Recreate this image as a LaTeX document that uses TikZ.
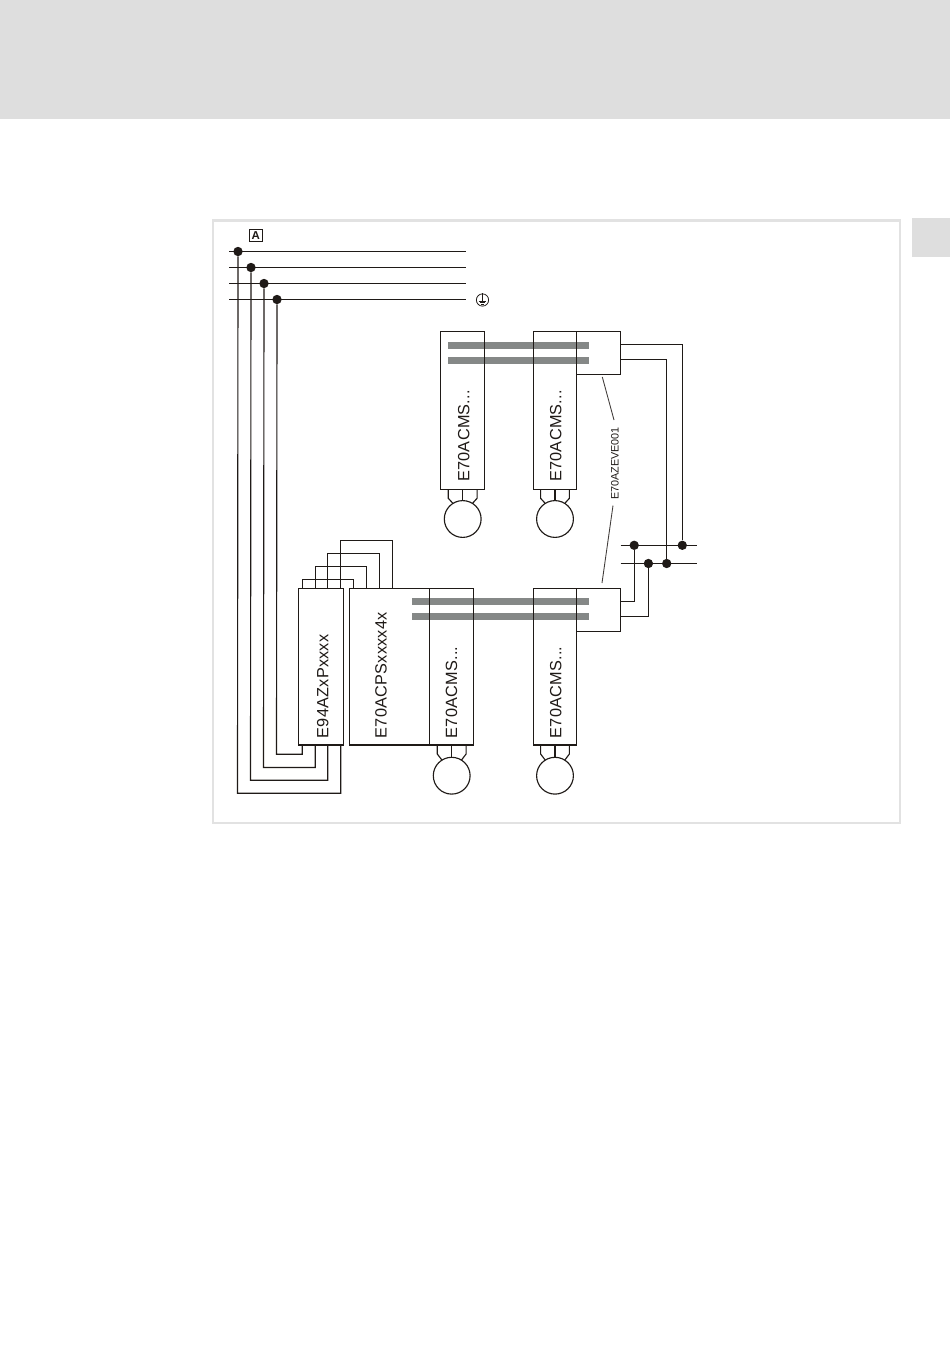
\documentclass[tikz,border=0pt]{standalone}
\usepackage{fontspec}
\setmainfont{Liberation Sans}
\newfontfamily\labfont[LetterSpace=1.5]{Liberation Sans}
\usetikzlibrary{fit}
\definecolor{pagegrey}{HTML}{DEDEDE}
\definecolor{framegrey}{HTML}{E2E2E2}
\definecolor{barx}{HTML}{858887}
\definecolor{inkx}{HTML}{1F1A17}
\tikzset{
  wire/.style={draw=inkx,line width=0.85pt},
  leader/.style={draw=inkx!85,line width=0.65pt},
  box/.style={draw=inkx,line width=0.85pt,inner sep=0pt,outer sep=0pt},
  dotx/.style={circle,fill=inkx,inner sep=0pt,minimum size=7pt},
  motor/.style={circle,draw=inkx,line width=0.85pt,inner sep=0pt,minimum size=27.6pt,outer sep=0pt},
  lab/.style={rotate=90,anchor=base west,inner sep=0pt,text=inkx,font=\labfont\fontsize{12.2}{14}\selectfont},
  barline/.style={fill=barx,draw=none},
}
\newcommand{\motorconn}[3]{% x center, y top, motor name
  \draw[wire] (#1,#2) -- (#3.north);
  \draw[wire] (#1-14.4,#2) -- (#1-14.4,#2+9) -- (#3.122);
  \draw[wire] (#1+14.4,#2) -- (#1+14.4,#2+9) -- (#3.58);
}
\begin{document}
\begin{tikzpicture}[x=0.75pt,y=-0.75pt]
\useasboundingbox (0,0) rectangle (950,1348);
\fill[white] (0,0) rectangle (950,1348);
\fill[pagegrey] (0,0) rectangle (950,119);
\fill[pagegrey] (912,218) rectangle (950,257);
\draw[framegrey,line width=2pt] (213,220.5) rectangle (900,823);

% boxed A
\node[draw=inkx,line width=0.7pt,inner sep=0pt,minimum size=9.4pt,font=\bfseries\fontsize{8.6}{9}\selectfont,text=inkx] (markA) at (255.8,235.5) {A};

% bus dots
\node[dotx] (d1) at (238,251.5) {};
\node[dotx] (d2) at (251,267.5) {};
\node[dotx] (d3) at (264,283.5) {};
\node[dotx] (d4) at (277,299.5) {};
\coordinate (l1) at (229,251.5); \coordinate (r1) at (466,251.5);
\coordinate (l2) at (229,267.5); \coordinate (r2) at (466,267.5);
\coordinate (l3) at (229,283.5); \coordinate (r3) at (466,283.5);
\coordinate (l4) at (229,299.5); \coordinate (r4) at (466,299.5);
\foreach \i in {1,2,3,4} \draw[wire] (l\i) -- (r\i);

% earth symbol
\node[circle,draw=inkx,line width=0.6pt,inner sep=0pt,minimum size=9.2pt] (earth) at (482.5,300) {};
\draw[wire,line width=0.5pt] (earth.north) -- (482.5,301);
\draw[wire,line width=0.5pt] (478.6,301) -- (486.4,301);
\draw[wire,line width=0.5pt] (479.8,302.8) -- (485.2,302.8);
\draw[wire,line width=0.5pt] (481.2,304.4) -- (483.8,304.4);

% grey bars
\fill[barline] (448,342) rectangle (589,349);
\fill[barline] (448,357) rectangle (589,364);
\fill[barline] (412,598) rectangle (589,605);
\fill[barline] (412,613) rectangle (589,620);

% boxes
\node[box,fit={(440.3,331.3)(484.3,489.3)}] (mA) {};
\node[box,fit={(533.3,331.3)(576.3,489.3)}] (mB) {};
\node[box,fit={(576.3,331.3)(620.5,374.3)}] (evA) {};
\node[box,fit={(298.3,588.7)(343.3,745)}] (e94) {};
\node[box,fit={(349.3,588.7)(429.5,745)}] (cps) {};
\node[box,fit={(429.5,588.7)(473.3,745)}] (mC) {};
\node[box,fit={(533.3,588.7)(576.3,745)}] (mD) {};
\node[box,fit={(576.3,588.7)(620.5,631.3)}] (evB) {};

% labels
\node[lab] (tA) at (469.3,482) {E70ACMS...};
\node[lab] (tB) at (561.3,482) {E70ACMS...};
\node[lab] (tC) at (457,738.5) {E70ACMS...};
\node[lab] (tD) at (561.3,738.5) {E70ACMS...};
\node[lab] (tE) at (328.3,738.5) {E94AZxPxxxx};
\node[lab] (tF) at (386.7,738.5) {E70ACPSxxxx4x};
\node[rotate=90,inner sep=0pt,text=inkx,font=\fontsize{8.1}{9}\selectfont] (tG) at (615,463.5) {E70AZEVE001};

% motors
\node[motor] (cA) at (462.7,519) {};
\node[motor] (cB) at (555,519) {};
\node[motor] (cC) at (451.7,775.7) {};
\node[motor] (cD) at (555,775.7) {};
\motorconn{462.7}{489.3}{cA}
\motorconn{555}{489.3}{cB}
\motorconn{451.7}{745}{cC}
\motorconn{555}{745}{cD}

% top loops between E94 and CPS
\draw[wire] (340.7,588.7) -- (340.7,540.5) -- (392.7,540.5) -- (392.7,588.7);
\draw[wire] (327.7,588.7) -- (327.7,553.5) -- (379.3,553.5) -- (379.3,588.7);
\draw[wire] (315.3,588.7) -- (315.3,566.5) -- (366.3,566.5) -- (366.3,588.7);
\draw[wire] (302.3,588.7) -- (302.3,579.5) -- (353.3,579.5) -- (353.3,588.7);

% feed from bus to E94
\draw[wire] (d1) -- (237.5,793.3) -- (340.7,793.3) -- (340.7,745);
\draw[wire] (d2) -- (250.5,780.3) -- (327.7,780.3) -- (327.7,745);
\draw[wire] (d3) -- (263.5,767.5) -- (315.3,767.5) -- (315.3,745);
\draw[wire] (d4) -- (276.5,754.3) -- (302.3,754.3) -- (302.3,745);

% DC bus
\node[dotx] (j1) at (634.2,545.3) {};
\node[dotx] (j2) at (682.3,545.3) {};
\node[dotx] (j3) at (648.4,563.5) {};
\node[dotx] (j4) at (666.7,563.5) {};
\coordinate (bl1) at (620.5,545.3); \coordinate (br1) at (697,545.3);
\coordinate (bl2) at (620.5,563.5); \coordinate (br2) at (697,563.5);
\draw[wire] (bl1) -- (br1);
\draw[wire] (bl2) -- (br2);
\draw[wire] (evA.east |- 0,344.3) -- (682.3,344.3) -- (j2);
\draw[wire] (evA.east |- 0,359.3) -- (666.7,359.3) -- (j4);
\draw[wire] (evB.east |- 0,601.3) -- (634.2,601.3) -- (j1);
\draw[wire] (evB.east |- 0,616.3) -- (648.4,616.3) -- (j3);

% leaders
\draw[leader] (602.3,377) -- (614,420);
\draw[leader] (613,505.5) -- (602,583);
\end{tikzpicture}
\end{document}
